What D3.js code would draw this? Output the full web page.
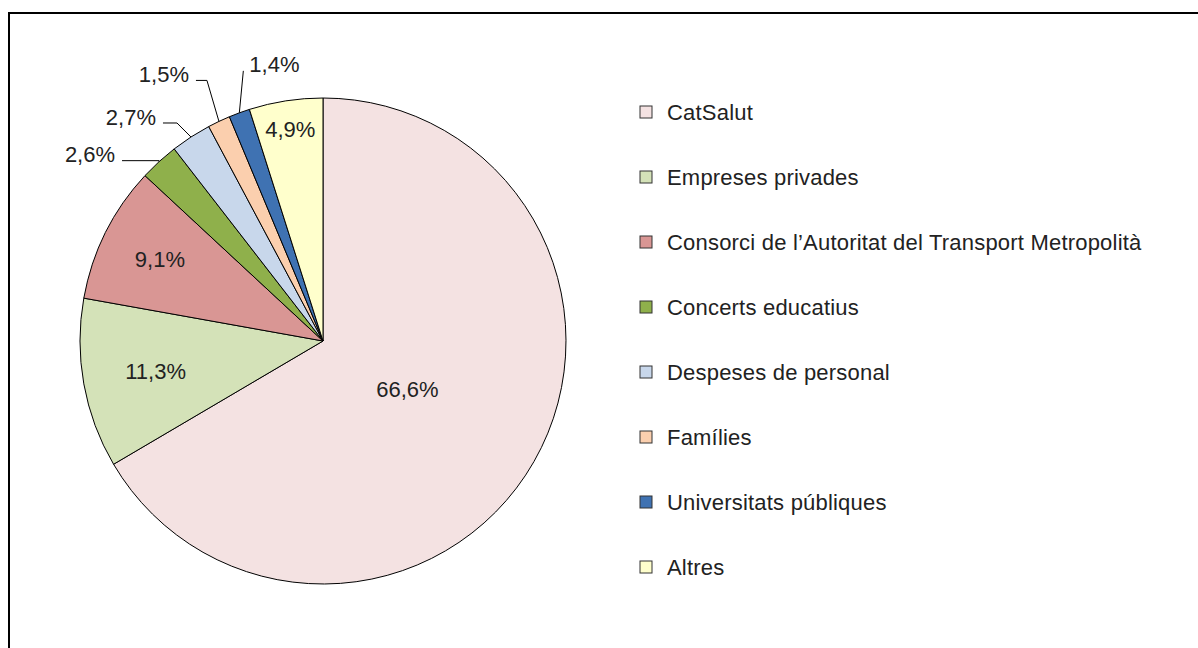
<!DOCTYPE html>
<html>
<head>
<meta charset="utf-8">
<script src="https://cdn.jsdelivr.net/npm/d3@7"></script>
<style>
  html, body { margin: 0; padding: 0; background: #fff; }
  svg { display: block; font-family: "Liberation Sans", Arial, sans-serif; }
  .pct { font-size: 22px; fill: #222; }
  .legend-text { font-size: 22px; fill: #222; letter-spacing: 0.2px; }
</style>
</head>
<body>
<div id="chart"></div>
<script>
// Dades
const categories = ["CatSalut", "Empreses privades", "Consorci de l\u2019Autoritat del Transport Metropolit\u00e0",
  "Concerts educatius", "Despeses de personal", "Fam\u00edlies", "Universitats p\u00fabliques", "Altres"];
const values = [66.6, 11.3, 9.1, 2.6, 2.7, 1.5, 1.4, 4.9];
const colors = ["#F4E2E2", "#D4E2B8", "#D99694", "#8FB04B", "#C8D7EB", "#FBCFAE", "#3F72B2", "#FFFFCC"];

// Posició de les etiquetes (dins: fracció del radi; fora: línia guia)
const labelLayout = [
  { inside: 0.40 },
  { inside: 0.70 },
  { inside: 0.75 },
  { elbow: [0, -1], tail: -37, side: "end" },
  { elbow: [-14, -14], tail: -14, side: "end" },
  { elbow: [-12, -41], tail: -11, side: "end" },
  { elbow: [4, -42], tail: 0, side: "start" },
  { inside: 0.88 }
];

const width = 1198, height = 648;
const cx = 323, cy = 341, radius = 243;

const fmt = v => v.toFixed(1).replace(".", ",") + "%";

const svg = d3.select("#chart").append("svg")
  .attr("width", width)
  .attr("height", height);

// Marc
svg.append("rect")
  .attr("x", 9).attr("y", 13)
  .attr("width", width + 20).attr("height", height + 20)
  .attr("fill", "none").attr("stroke", "#000").attr("stroke-width", 2);

const pie = d3.pie().sort(null).value(d => d)(values);
const arc = d3.arc().innerRadius(0).outerRadius(radius);

const g = svg.append("g").attr("transform", `translate(${cx},${cy})`);

g.selectAll("path.slice")
  .data(pie)
  .join("path")
  .attr("class", "slice")
  .attr("d", arc)
  .attr("fill", (d, i) => colors[i])
  .attr("stroke", "#000")
  .attr("stroke-width", 1);

// Etiquetes
const pointAt = (a, r) => [r * Math.sin(a), -r * Math.cos(a)];

pie.forEach((d, i) => {
  const lay = labelLayout[i];
  const mid = (d.startAngle + d.endAngle) / 2;
  if (lay.inside !== undefined) {
    const [x, y] = pointAt(mid, radius * lay.inside);
    g.append("text")
      .attr("class", "pct")
      .attr("x", x).attr("y", y)
      .attr("text-anchor", "middle")
      .attr("dominant-baseline", "central")
      .text(fmt(values[i]));
  } else {
    const a = pointAt(mid, radius);
    const e = [a[0] + lay.elbow[0], a[1] + lay.elbow[1]];
    const t = [e[0] + lay.tail, e[1]];
    g.append("polyline")
      .attr("points", [a, e, t].map(p => p.join(",")).join(" "))
      .attr("fill", "none")
      .attr("stroke", "#000")
      .attr("stroke-width", 1);
    g.append("text")
      .attr("class", "pct")
      .attr("x", t[0] + (lay.side === "end" ? -7 : 6))
      .attr("y", t[1] - 6)
      .attr("text-anchor", lay.side)
      .attr("dominant-baseline", "central")
      .text(fmt(values[i]));
  }
});

// Llegenda
const legendY = d3.scalePoint()
  .domain(categories)
  .range([112, 567]);

const legend = svg.append("g");
const item = legend.selectAll("g")
  .data(categories)
  .join("g")
  .attr("transform", d => `translate(640,${legendY(d)})`);

item.append("rect")
  .attr("x", 0).attr("y", -6)
  .attr("width", 12).attr("height", 12)
  .attr("fill", (d, i) => colors[i])
  .attr("stroke", "#333")
  .attr("stroke-width", 1);

item.append("text")
  .attr("class", "legend-text")
  .attr("x", 27).attr("y", 0)
  .attr("dominant-baseline", "central")
  .text(d => d);
</script>
</body>
</html>
